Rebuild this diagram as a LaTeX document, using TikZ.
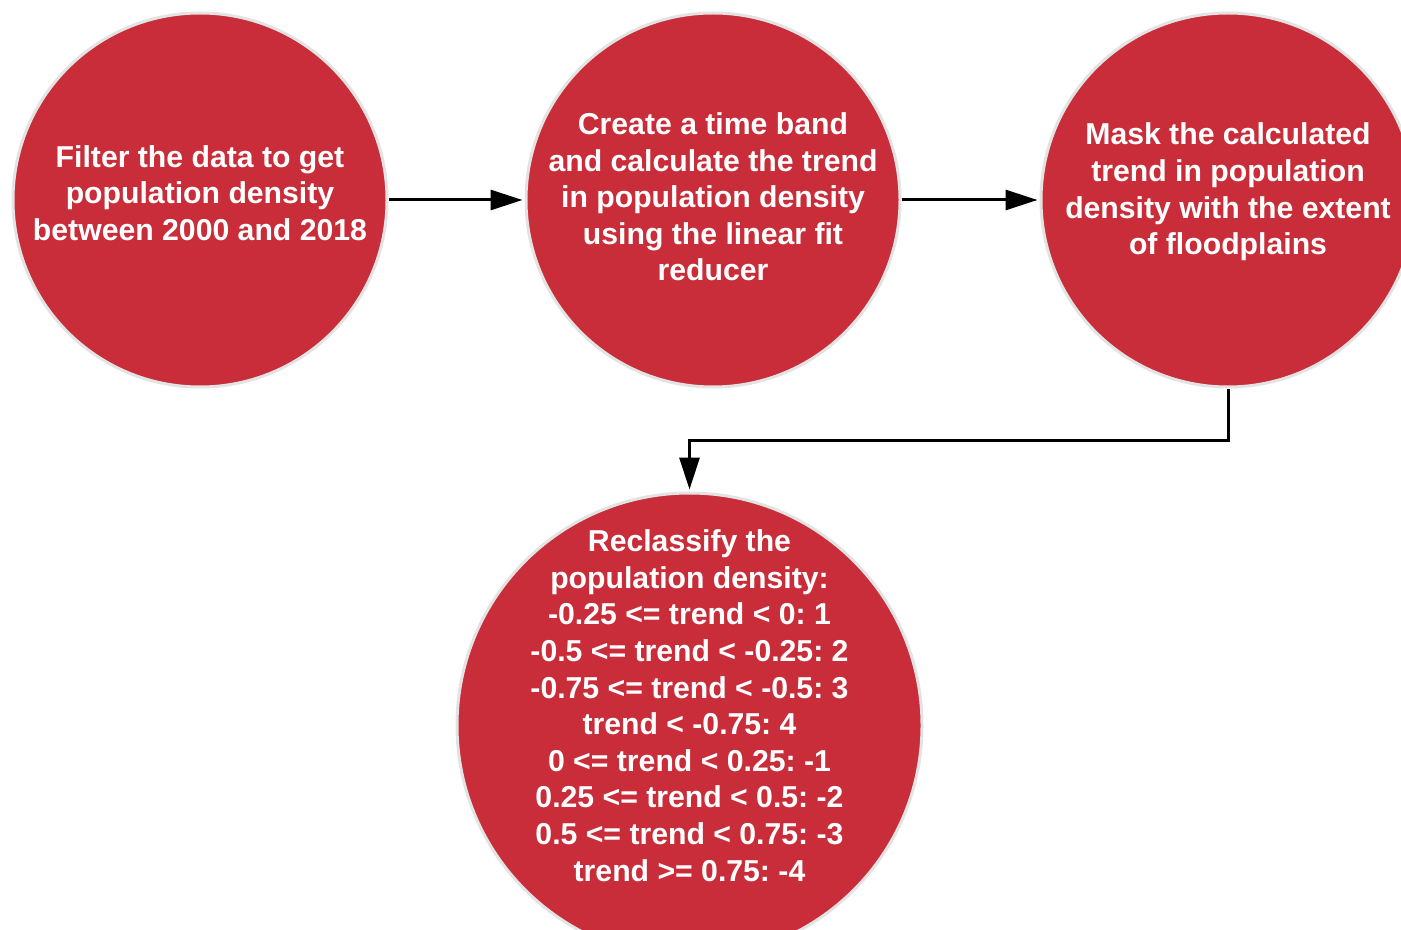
\documentclass[tikz,border=0pt]{standalone}
\usepackage{fontspec}
\setmainfont{Liberation Sans}
\usetikzlibrary{arrows.meta}
\definecolor{lucidred}{HTML}{C92D39}
\definecolor{rim}{HTML}{E3E3E3}
\frenchspacing

\begin{document}
\begin{tikzpicture}[x=0.5pt,y=-0.5pt]
\tikzstyle{disc}=[circle, fill=lucidred, draw=rim, line width=1.5pt, minimum size=187pt, inner sep=0pt]
\tikzstyle{bigdisc}=[disc, minimum size=232.5pt]
\tikzstyle{caption}=[text=white, align=center, font=\bfseries\fontsize{15.1}{18.3}\selectfont]
\tikzstyle{flow}=[line width=1.5pt, -{Triangle[length=16pt,width=10pt]}, shorten >=1pt]

\useasboundingbox (0,0) rectangle (1401,930);

\node[disc] (filter) at (200,200) {};
\node[disc] (trend) at (713,200) {};
\node[disc] (mask) at (1228,200) {};
\node[bigdisc] (reclass) at (689.5,725.5) {};

\node[caption] (filtertext) at ([yshift=3.5pt]filter) {Filter the data to get\\population density\\between 2000 and 2018};
\node[caption] (trendtext) at ([yshift=1.5pt]trend) {Create a time band\\and calculate the trend\\in population density\\using the linear fit\\reducer};
\node[caption] (masktext) at ([yshift=4pt]mask) {Mask the calculated\\trend in population\\density with the extent\\of floodplains};
\node[caption] (reclasstext) at ([yshift=10pt]reclass) {Reclassify the\\population density:\\-0.25 <= trend < 0: 1\\-0.5 <= trend < -0.25: 2\\-0.75 <= trend < -0.5: 3\\trend < -0.75: 4\\0 <= trend < 0.25: -1\\0.25 <= trend < 0.5: -2\\0.5 <= trend < 0.75: -3\\trend >= 0.75: -4};

\draw[flow] (filter) -- (trend);
\draw[flow] (trend) -- (mask);
\draw[flow] (mask.south) -- ++(0,52) -| (reclass.north);
\end{tikzpicture}
\end{document}
